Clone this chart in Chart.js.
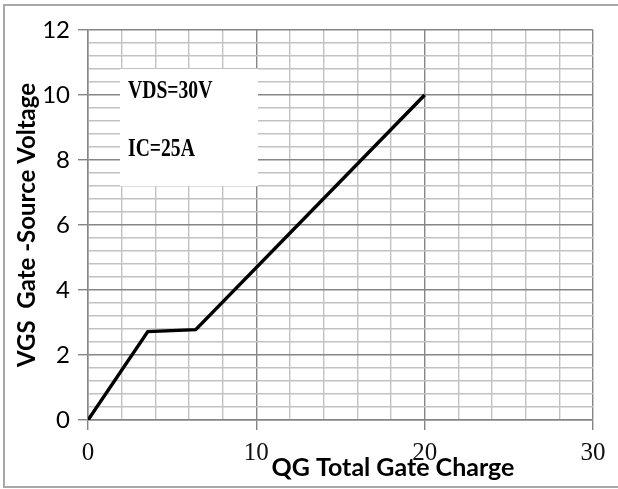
<!DOCTYPE html>
<html>
<head>
<meta charset="utf-8">
<script src="https://cdn.jsdelivr.net/npm/chart.js@4.4.0/dist/chart.umd.min.js"></script>
<style>
    html, body { margin: 0; padding: 0; background: #fff; }
    #wrap { position: relative; width: 618px; height: 489px; }
</style>
</head>
<body>
<div id="wrap"><canvas id="chart" width="618" height="489"></canvas></div>
<script>
// Gate charge curve
const gateCharge = [0, 3.55, 6.4, 20];
const gateVoltage = [0, 2.72, 2.78, 10];

// Axis ticks
const xMajor = [0, 10, 20, 30];
const yMajor = [0, 2, 4, 6, 8, 10, 12];

// Texts
const noteLines = ['VDS=30V', 'IC=25A'];
const xTitle = 'QG Total Gate Charge';
const yTitle = 'VGS  Gate -Source Voltage';

const MAJOR = '#858585';
const MINOR = '#c2c2c2';

const near = (v, list) => list.some(t => Math.abs(v - t) < 1e-6);

// White background, outer frame, note box and bottom title
const framePlugin = {
    id: 'frame',
    beforeDraw(chart) {
        const c = chart.ctx;
        c.save();
        c.fillStyle = '#fff';
        c.fillRect(0, 0, chart.width, chart.height);
        c.strokeStyle = '#a8a8a8';
        c.lineWidth = 2;
        c.strokeRect(4, 5, chart.width + 4, chart.height - 7);
        c.restore();
    },
    beforeDatasetsDraw(chart) {
        const c = chart.ctx;
        const x = chart.scales.x, y = chart.scales.y;
        const l = x.getPixelForValue(1.9), r = x.getPixelForValue(10.1);
        const t = y.getPixelForValue(10.8), b = y.getPixelForValue(7.2);
        c.save();
        c.fillStyle = '#fff';
        c.fillRect(l, t, r - l, b - t);
        c.fillStyle = '#000';
        c.font = 'bold 25px "Liberation Serif"';
        c.textBaseline = 'alphabetic';
        const rows = [9.9, 8.13];
        noteLines.forEach((txt, i) => {
            c.save();
            c.translate(x.getPixelForValue(2.38), y.getPixelForValue(rows[i]));
            c.scale(0.785, 1);
            c.fillText(txt, 0, 0);
            c.restore();
        });
        c.restore();
    },
    afterDraw(chart) {
        const c = chart.ctx;
        c.save();
        c.fillStyle = '#000';
        c.font = 'bold 25px "Lato"';
        c.textBaseline = 'alphabetic';
        c.textAlign = 'center';
        c.fillText(xTitle, 393, 476);
        c.restore();
    }
};

new Chart(document.getElementById('chart'), {
    type: 'scatter',
    data: {
        datasets: [{
            data: gateCharge.map((q, i) => ({ x: q, y: gateVoltage[i] })),
            showLine: true,
            borderColor: '#000',
            borderWidth: 3.5,
            pointRadius: 0,
            tension: 0
        }]
    },
    options: {
        responsive: false,
        animation: false,
        layout: { padding: { left: 0, top: 30, right: 25, bottom: 0 } },
        plugins: { legend: { display: false }, tooltip: { enabled: false } },
        scales: {
            x: {
                type: 'linear',
                min: 0,
                max: 30,
                afterFit: (s) => { s.height = 69; },
                ticks: {
                    stepSize: 2,
                    autoSkip: false,
                    maxRotation: 0,
                    padding: 8,
                    color: '#111',
                    font: { family: '"Liberation Serif"', size: 25 },
                    callback: (v) => near(v, xMajor) ? String(v) : ''
                },
                grid: {
                    color: (ctx) => near(ctx.tick.value, xMajor) ? MAJOR : MINOR,
                    tickColor: (ctx) => near(ctx.tick.value, xMajor) ? MAJOR : 'rgba(0,0,0,0)',
                    tickLength: 10,
                    lineWidth: 1.4
                },
                border: { color: MAJOR, width: 1.5 }
            },
            y: {
                min: 0,
                max: 12,
                afterFit: (s) => { s.width = 88; },
                ticks: {
                    stepSize: 0.4,
                    autoSkip: false,
                    padding: 8,
                    color: '#000',
                    font: { family: 'Lato', size: 24 },
                    callback: (v) => near(v, yMajor) ? String(Math.round(v)) : ''
                },
                grid: {
                    color: (ctx) => near(ctx.tick.value, yMajor) ? MAJOR : MINOR,
                    tickColor: (ctx) => near(ctx.tick.value, yMajor) ? MAJOR : 'rgba(0,0,0,0)',
                    tickLength: 10,
                    lineWidth: 1.4
                },
                border: { color: MAJOR, width: 1.5 },
                title: {
                    display: true,
                    text: yTitle,
                    color: '#000',
                    font: { family: 'Lato', size: 24, weight: 'bold', lineHeight: 1 },
                    padding: { top: 15, bottom: 0 }
                }
            }
        }
    },
    plugins: [framePlugin]
});
</script>
</body>
</html>
